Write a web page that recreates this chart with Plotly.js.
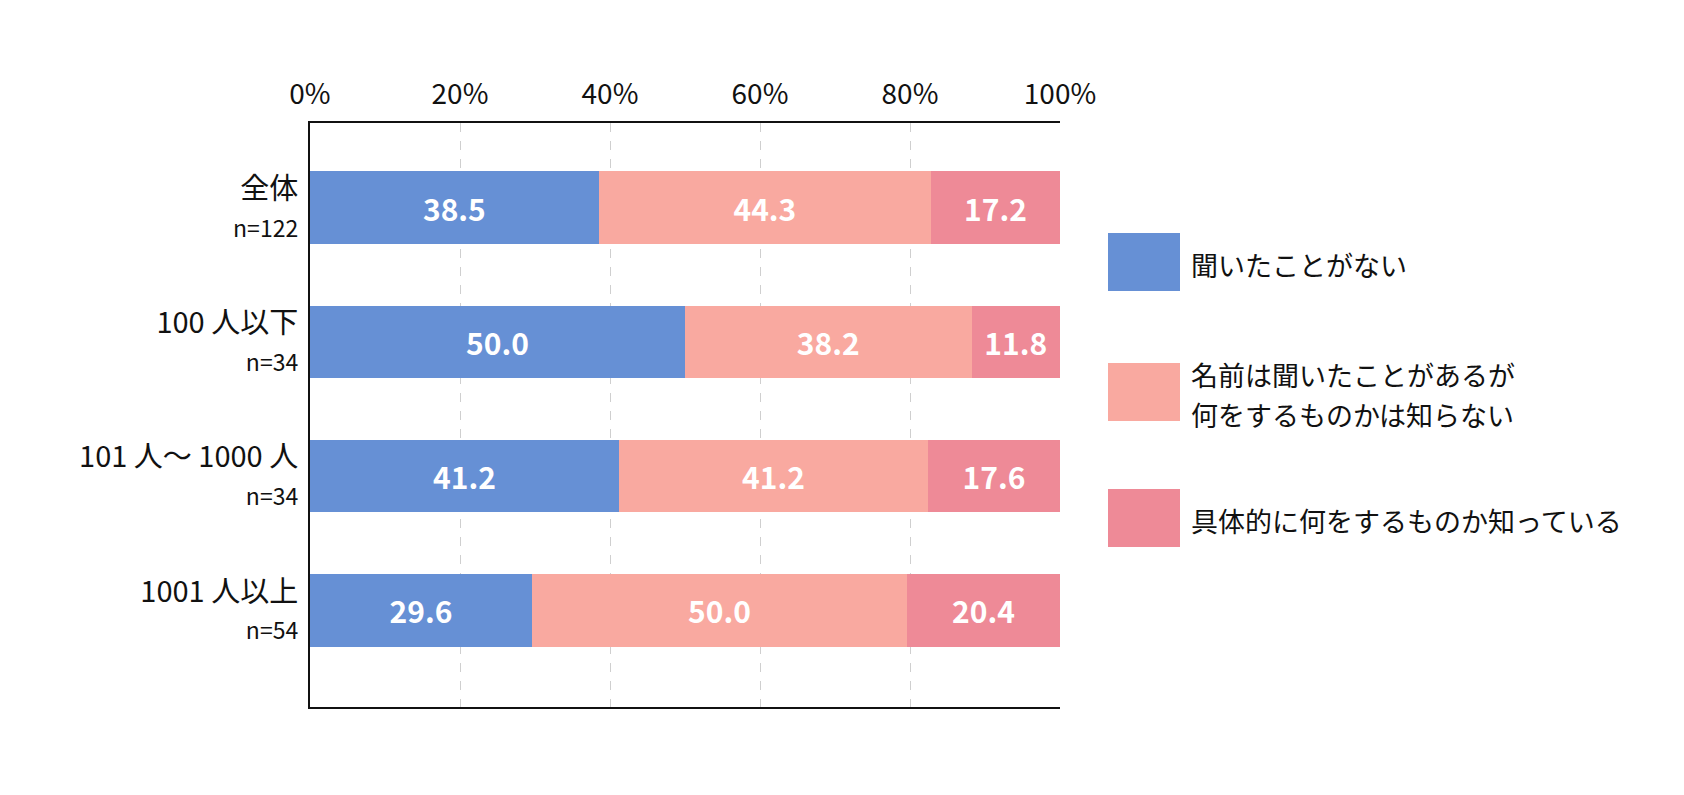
<!DOCTYPE html>
<html>
<head>
<meta charset="utf-8">
<script src="https://cdn.plot.ly/plotly-3.0.1.min.js"></script>
<style>
  html, body { margin: 0; padding: 0; background: #fff; }
  #chart { width: 1684px; height: 795px; }
</style>
</head>
<body>
<div id="chart"></div>
<script>
const groups = ['全体', '100 人以下', '101 人～ 1000 人', '1001 人以上'];
const sampleSizes = [122, 34, 34, 54];

const neverHeard = [38.5, 50.0, 41.2, 29.6];
const nameOnly = [44.3, 38.2, 41.2, 50.0];
const knowWell = [17.2, 11.8, 17.6, 20.4];

const seriesNames = [
  '聞いたことがない',
  '名前は聞いたことがあるが<br>何をするものかは知らない',
  '具体的に何をするものか知っている'
];
const seriesColors = ['#6690d5', '#f9a9a0', '#ee8a97'];

const xTicks = [0, 20, 40, 60, 80, 100];
const xTickText = ['0%', '20%', '40%', '60%', '80%', '100%'];

const FONT = '"Noto Sans CJK JP", "Noto Sans", sans-serif';

const tickText = groups.map((g, i) =>
  g + '<br><span style="font-size:23px">n=' + sampleSizes[i] + '</span>');

const values = [neverHeard, nameOnly, knowWell];

const data = values.map((vals, i) => ({
  type: 'bar',
  orientation: 'h',
  y: groups,
  x: vals,
  name: seriesNames[i],
  width: 0.54,
  marker: { color: seriesColors[i], line: { width: 0 } },
  texttemplate: '%{x:.1f}',
  textposition: 'inside',
  insidetextanchor: 'middle',
  constraintext: 'none',
  textfont: { family: FONT, size: 30, color: '#ffffff', weight: 'bold' },
  hoverinfo: 'x+name'
}));

// plot area in pixels
const L = 310, R = 1060, T = 123, B = 707;
const W = R - L, H = B - T;
const px = v => (v - L) / W;
const py = v => (B - v) / H;

// hand-made legend: large swatches with labels next to them
const swatchTops = [233, 363, 489];
const swatchH = 58;
const lineGap = 40;
const shapes = [];
const annotations = [];
seriesNames.forEach((name, i) => {
  const top = swatchTops[i];
  shapes.push({
    type: 'rect', xref: 'paper', yref: 'paper',
    x0: px(1108), x1: px(1180), y0: py(top + swatchH), y1: py(top),
    fillcolor: seriesColors[i], line: { width: 0 }
  });
  const lines = name.split('<br>');
  const mid = top + swatchH / 2 + 2;
  lines.forEach((line, j) => {
    const off = (j - (lines.length - 1) / 2) * lineGap;
    annotations.push({
      xref: 'paper', yref: 'paper',
      x: px(1189), y: py(mid + off),
      xanchor: 'left', yanchor: 'middle', align: 'left',
      showarrow: false, text: line,
      font: { family: FONT, size: 27, color: '#111' }
    });
  });
});

const layout = {
  width: 1684,
  height: 795,
  margin: { l: L, r: 1684 - R, t: T, b: 795 - B },
  paper_bgcolor: '#ffffff',
  plot_bgcolor: '#ffffff',
  barmode: 'stack',
  showlegend: false,
  font: { family: FONT, color: '#111' },
  xaxis: {
    side: 'top',
    range: [0, 100],
    tickvals: xTicks,
    ticktext: xTickText,
    tickfont: { family: FONT, size: 28, color: '#111' },
    ticks: '',
    ticklabelstandoff: 6,
    showgrid: true,
    gridcolor: '#cfcfcf',
    griddash: 'dash',
    gridwidth: 1,
    zeroline: false,
    showline: true,
    linecolor: '#111',
    linewidth: 2,
    mirror: true,
    fixedrange: true
  },
  yaxis: {
    type: 'category',
    range: [3.72, -0.63],
    tickvals: groups,
    ticktext: tickText,
    tickfont: { family: FONT, size: 29, color: '#111' },
    ticks: '',
    ticklabelstandoff: 4,
    showgrid: false,
    zeroline: false,
    showline: true,
    linecolor: '#111',
    linewidth: 2,
    fixedrange: true
  },
  shapes: shapes,
  annotations: annotations
};

Plotly.newPlot('chart', data, layout, { displayModeBar: false, staticPlot: true });
</script>
</body>
</html>
